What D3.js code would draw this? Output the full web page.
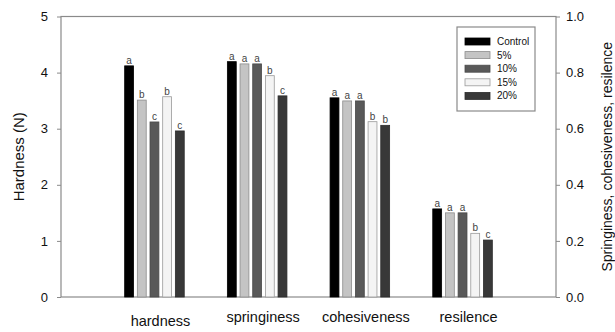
<!DOCTYPE html>
<html>
<head>
<meta charset="utf-8">
<script src="https://cdn.jsdelivr.net/npm/d3@7"></script>
<style>
  body { margin: 0; background: #fff; }
  svg { font-family: "Liberation Sans", Arial, sans-serif; }
</style>
</head>
<body>
<div id="chart"></div>
<script>
// chart data
const categories = ['hardness', 'springiness', 'cohesiveness', 'resilence'];
const series = ['Control', '5%', '10%', '15%', '20%'];
// hardness in N (left axis), others on right axis (0-1)
const hardness = [4.12, 3.51, 3.12, 3.57, 2.96];
const springiness = [0.839, 0.831, 0.831, 0.789, 0.717];
const cohesiveness = [0.710, 0.699, 0.699, 0.625, 0.612];
const resilence = [0.314, 0.300, 0.300, 0.227, 0.203];
const letters = [
  ['a', 'b', 'c', 'b', 'c'],
  ['a', 'a', 'a', 'b', 'c'],
  ['a', 'a', 'a', 'b', 'b'],
  ['a', 'a', 'a', 'b', 'c']
];
const leftTicks = [0, 1, 2, 3, 4, 5];
const rightTicks = [0, 0.2, 0.4, 0.6, 0.8, 1.0];

const fills = ['#000000', '#c4c4c4', '#595959', '#f4f4f4', '#383838'];
const strokes = ['#000000', '#8c8c8c', '#4a4a4a', '#9a9a9a', '#2c2c2c'];

const W = 615, H = 332;
const margin = { top: 16.5, right: 59, bottom: 35, left: 61 };

const svg = d3.select('#chart').append('svg')
  .attr('width', W)
  .attr('height', H);

const x0 = d3.scaleBand()
  .domain(categories)
  .range([margin.left, W - margin.right])
  .paddingInner(0.42)
  .paddingOuter(0.62);

const x1 = d3.scaleBand()
  .domain(series)
  .range([0, x0.bandwidth()])
  .paddingInner(0.3);

const yLeft = d3.scaleLinear().domain([0, 5]).range([H - margin.bottom, margin.top]);
const yRight = d3.scaleLinear().domain([0, 1]).range([H - margin.bottom, margin.top]);

const rows = [hardness, springiness, cohesiveness, resilence];
const bars = [];
categories.forEach((c, ci) => {
  series.forEach((s, si) => {
    bars.push({ cat: c, ser: s, si, value: rows[ci][si], letter: letters[ci][si], left: ci === 0 });
  });
});

const yOf = d => d.left ? yLeft(d.value) : yRight(d.value);

// frame
svg.append('rect')
  .attr('x', margin.left)
  .attr('y', margin.top)
  .attr('width', W - margin.left - margin.right)
  .attr('height', H - margin.top - margin.bottom)
  .attr('fill', 'none')
  .attr('stroke', '#8a8a8a')
  .attr('stroke-width', 1.2);

// bars
svg.selectAll('.bar')
  .data(bars)
  .enter().append('rect')
  .attr('class', 'bar')
  .attr('x', d => x0(d.cat) + x1(d.ser))
  .attr('y', d => yOf(d))
  .attr('width', x1.bandwidth())
  .attr('height', d => yLeft(0) - yOf(d))
  .attr('fill', d => fills[d.si])
  .attr('stroke', d => strokes[d.si])
  .attr('stroke-width', 0.8);

// significance letters
svg.selectAll('.lt')
  .data(bars)
  .enter().append('text')
  .attr('x', d => x0(d.cat) + x1(d.ser) + x1.bandwidth() / 2)
  .attr('y', d => yOf(d) - 2)
  .attr('text-anchor', 'middle')
  .style('font-size', '10px')
  .style('fill', '#444')
  .text(d => d.letter);

// left axis
const axL = svg.append('g')
  .attr('transform', `translate(${margin.left},0)`)
  .call(d3.axisLeft(yLeft).tickValues(leftTicks).tickSize(4).tickPadding(9).tickFormat(d3.format('d')));
axL.select('.domain').remove();
axL.selectAll('line').attr('stroke', '#8a8a8a');
axL.selectAll('text').style('font-size', '13px').style('fill', '#111');

// right axis
const axR = svg.append('g')
  .attr('transform', `translate(${W - margin.right},0)`)
  .call(d3.axisRight(yRight).tickValues(rightTicks).tickSize(4).tickPadding(6).tickFormat(d3.format('.1f')));
axR.select('.domain').remove();
axR.selectAll('line').attr('stroke', '#8a8a8a');
axR.selectAll('text').style('font-size', '13px').style('fill', '#111');

// category labels
svg.selectAll('.cat')
  .data(categories)
  .enter().append('text')
  .attr('x', d => x0(d) + x0.bandwidth() / 2 + 6)
  .attr('y', (d, i) => i === 0 ? 326 : 322)
  .attr('text-anchor', 'middle')
  .style('font-size', '14.5px')
  .style('fill', '#111')
  .text(d => d);

// axis titles
svg.append('text')
  .attr('transform', `translate(24,${(margin.top + H - margin.bottom) / 2}) rotate(-90)`)
  .attr('text-anchor', 'middle')
  .style('font-size', '15px')
  .style('fill', '#111')
  .text('Hardness (N)');

svg.append('text')
  .attr('transform', `translate(612,${(margin.top + H - margin.bottom) / 2}) rotate(-90)`)
  .attr('text-anchor', 'middle')
  .style('font-size', '14px')
  .style('fill', '#111')
  .text('Springiness, cohesiveness, resilence');

// legend
const lg = svg.append('g').attr('transform', 'translate(457,27)');
lg.append('rect')
  .attr('width', 78)
  .attr('height', 84)
  .attr('fill', '#fff')
  .attr('stroke', '#8a8a8a')
  .attr('stroke-width', 1.2);
const items = lg.selectAll('.item')
  .data(series)
  .enter().append('g')
  .attr('transform', (d, i) => `translate(8,${14.5 + i * 13.6})`);
items.append('rect')
  .attr('y', -3.5)
  .attr('width', 25)
  .attr('height', 7)
  .attr('fill', (d, i) => fills[i])
  .attr('stroke', (d, i) => strokes[i])
  .attr('stroke-width', 0.8);
items.append('text')
  .attr('x', 32)
  .attr('y', 3.5)
  .style('font-size', '10px')
  .style('fill', '#111')
  .text(d => d);
</script>
</body>
</html>
